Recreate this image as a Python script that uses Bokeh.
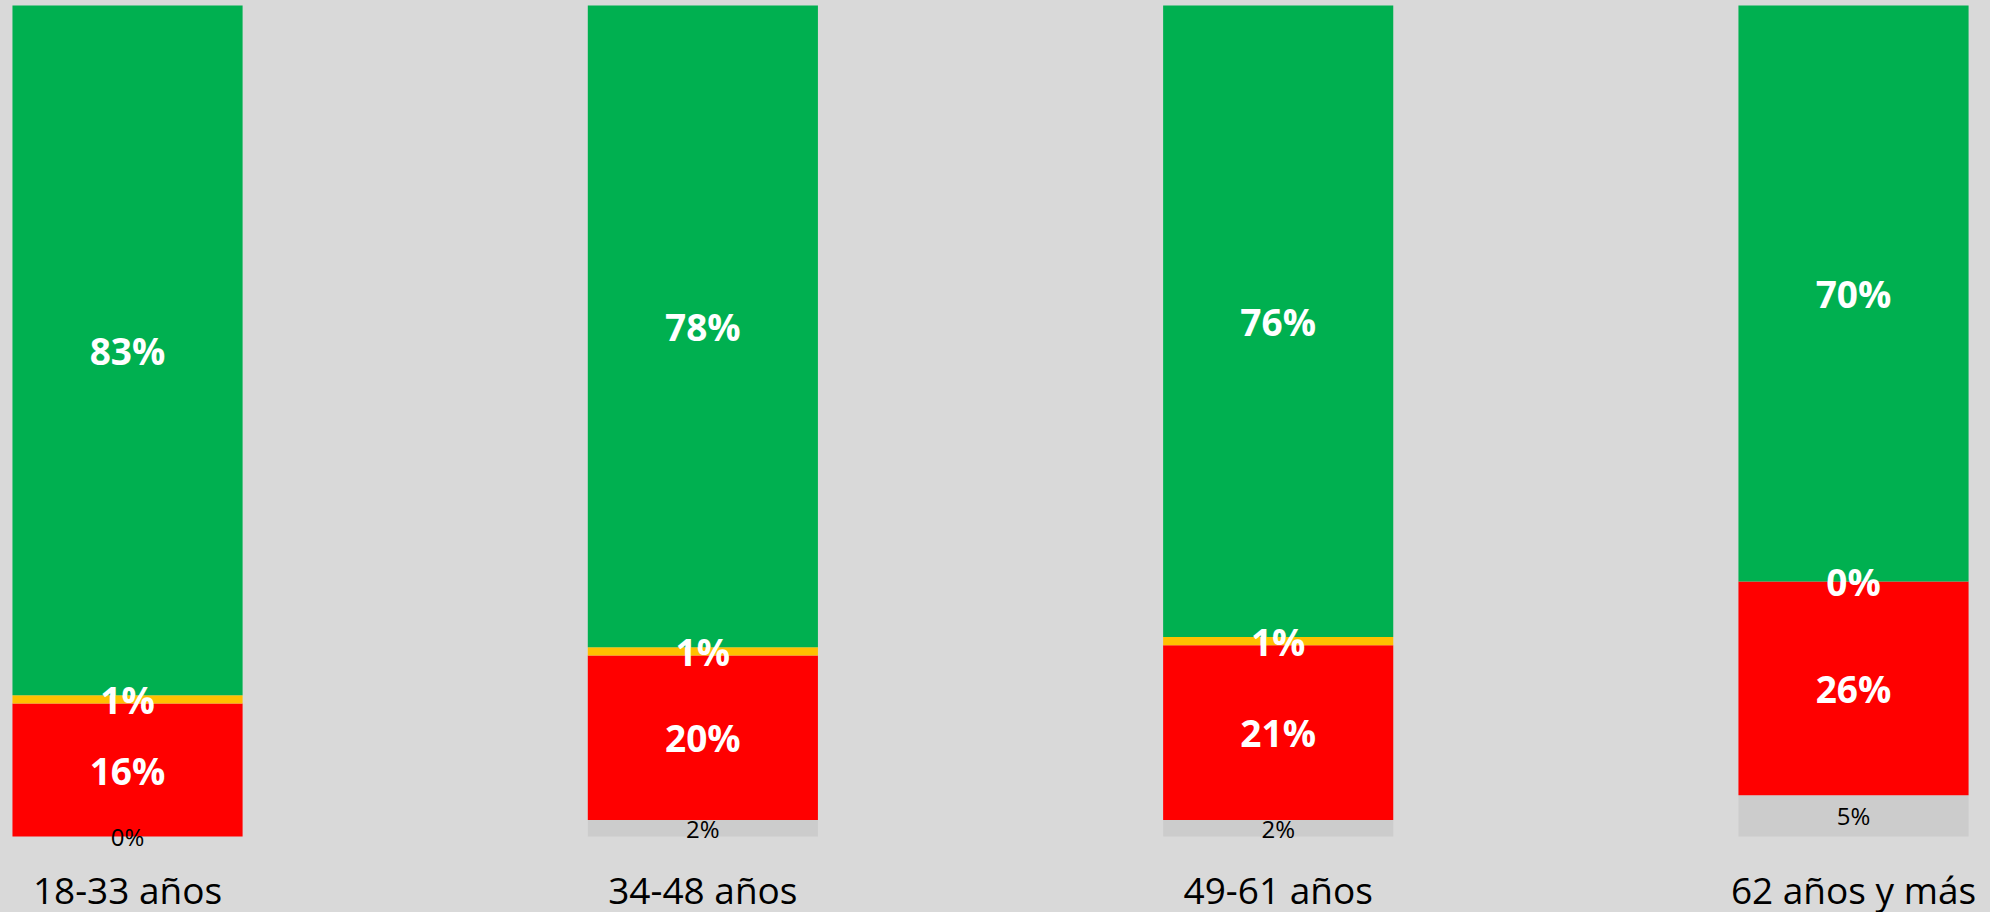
from bokeh.plotting import figure
from bokeh.models import ColumnDataSource, FixedTicker
from bokeh.core.properties import value
from bokeh.embed import file_html
from bokeh.resources import INLINE

# ---- data (percent labels as shown) ----
categorias = ["18-33 años", "34-48 años", "49-61 años", "62 años y más"]
gris = [0, 2, 2, 5]
rojo = [16, 20, 21, 26]
amarillo = [1, 1, 1, 0]
verde = [83, 78, 76, 70]

series = ["gris", "rojo", "amarillo", "verde"]
colores = ["#CCCCCC", "#FF0000", "#FFC000", "#00B050"]
valores = {"gris": gris, "rojo": rojo, "amarillo": amarillo, "verde": verde}

# 100% stacked: normalise each column
n = len(categorias)
totales = [sum(valores[s][i] for s in series) for i in range(n)]
data = {"x": list(range(n))}
for s in series:
    data[s] = [valores[s][i] * 100.0 / totales[i] for i in range(n)]
src = ColumnDataSource(data)

BG = "#D9D9D9"
p = figure(frame_width=1990, frame_height=856,
           x_range=(-0.2208, 3.2381), y_range=(-2.407, 100.602),
           output_backend="svg", toolbar_location=None,
           background_fill_color=BG, border_fill_color=BG,
           min_border=0, outline_line_color=None)

p.vbar_stack(series, x="x", width=0.4, source=src, color=colores, line_color=None)

# label positions (segment centres)
lab = {"x": [], "y": [], "t": [], "big": []}
for i in range(n):
    base = 0.0
    for s in series:
        h = data[s][i]
        lab["x"].append(i)
        lab["y"].append(base + h / 2.0)
        lab["t"].append(f"{valores[s][i]}%")
        lab["big"].append(s != "gris")
        base += h

big = ColumnDataSource({k: [v for v, b in zip(lab[k], lab["big"]) if b] for k in ("x", "y", "t")})
small = ColumnDataSource({k: [v for v, b in zip(lab[k], lab["big"]) if not b] for k in ("x", "y", "t")})

p.text(x="x", y="y", text="t", source=big, text_color="white",
       text_font=value("Open Sans"), text_font_style="bold", text_font_size="37px",
       text_align="center", text_baseline="middle")
p.text(x="x", y="y", text="t", source=small, text_color="black",
       text_font=value("Open Sans"), text_font_size="24px",
       text_align="center", text_baseline="middle")

p.xgrid.grid_line_color = None
p.ygrid.grid_line_color = None
p.yaxis.visible = False
ax = p.xaxis[0]
ax.ticker = FixedTicker(ticks=list(range(n)))
ax.major_label_overrides = {i: c for i, c in enumerate(categorias)}
ax.axis_line_color = None
ax.major_tick_line_color = None
ax.minor_tick_line_color = None
ax.major_tick_out = 0
ax.major_tick_in = 0
ax.major_label_standoff = 7
ax.major_label_text_font = "Open Sans"
ax.major_label_text_font_size = "37px"
ax.major_label_text_color = "black"

html = file_html(p, INLINE)
html = html.replace("</head>", "<style>html,body{margin:0;padding:0;background:#D9D9D9;overflow:hidden;}</style></head>", 1)
open("out.html", "w").write(html)
